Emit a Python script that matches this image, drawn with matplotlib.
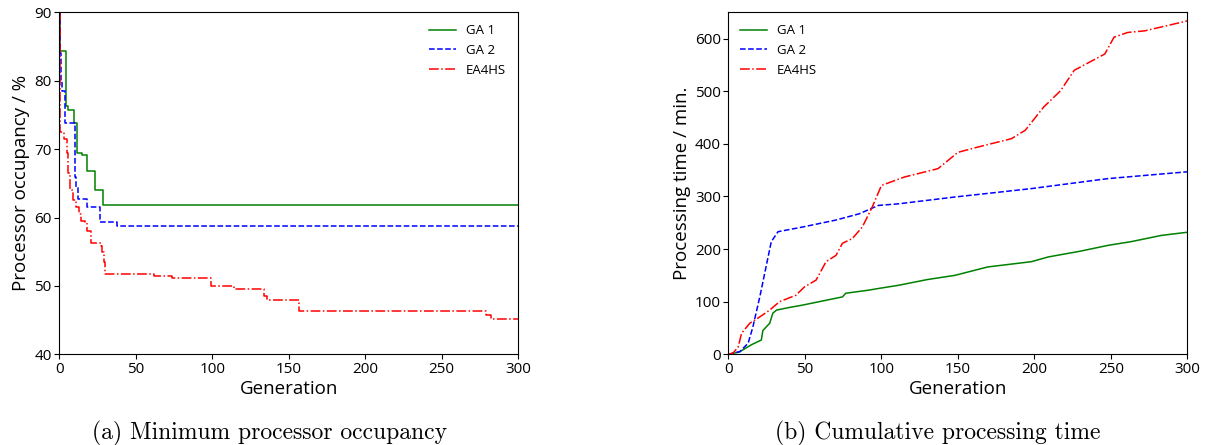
import matplotlib
matplotlib.use("Agg")
import matplotlib.pyplot as plt

plt.rcParams['font.family'] = ['Open Sans', 'DejaVu Sans']

# (a) minimum processor occupancy, step data
occ_gen_ga1 = [0, 0.5, 4.5, 6, 9.5, 11.5, 15, 18.5, 23.5, 28.5, 300]
occ_ga1 = [90, 84.3, 76.3, 75.8, 73.8, 69.5, 69.1, 66.8, 64.0, 61.8, 61.8]

occ_gen_ga2 = [0, 0.3, 1, 2, 3.7, 10.5, 11, 12, 18.3, 26.5, 37.5, 300]
occ_ga2 = [90, 84, 80, 78.5, 73.9, 66, 64.5, 62.7, 61.6, 59.4, 58.8, 58.8]

occ_gen_ea = [0, 0.3, 0.8, 3, 5, 6, 7, 9, 11, 13, 14, 17, 18, 21, 27, 28, 29, 30,
              62, 74, 99, 114, 134, 136, 157, 279, 282, 300]
occ_ea = [90, 80, 72.5, 71.5, 69.5, 66.5, 64.0, 62.5, 61.5, 60.5, 59.5, 59.3, 58.0,
          56.3, 55.8, 55.0, 53.5, 51.7, 51.5, 51.2, 50.0, 49.6, 48.5, 47.9, 46.3,
          45.7, 45.2, 45.2]

# (b) cumulative processing time
pt_gen_ga1 = [0, 7, 15, 21.5, 22.5, 27, 29, 31.5, 40, 48.6, 59.4, 74.5, 76.7, 92, 98,
              111, 130, 148, 169.5, 198, 209, 230, 248, 263, 283, 300]
pt_ga1 = [0, 4, 18, 27, 45, 59, 78, 84, 89, 93.5, 100, 109, 116, 122, 125, 131, 142,
          150, 166, 176, 185, 196, 207, 214, 226, 232]

pt_gen_ga2 = [0, 7.5, 12.9, 16, 20.5, 28, 32.4, 48.6, 70, 85.4, 98, 111, 148, 198, 248, 300]
pt_ga2 = [0, 5, 21, 52, 109, 214, 233, 242, 255, 267, 283, 286, 299, 315, 334, 347]

pt_gen_ea = [0, 3, 6.4, 8.6, 14, 20.5, 27, 33.4, 44, 49.7, 57.3, 63.8, 70.3, 74.5, 81,
             87.5, 94, 100, 115, 137, 150, 163, 185, 194, 206, 217, 226, 246, 252, 261,
             272, 300]
pt_ea = [0, 2, 14, 40, 59, 71, 84, 100, 112, 128, 141, 176, 188, 211, 220, 242, 280,
         321, 337, 353, 384, 394, 410, 426, 470, 501, 540, 571, 603, 612, 615, 634]

labels = ["GA 1", "GA 2", "EA4HS"]

fig = plt.figure(figsize=(12.08, 4.45), dpi=100)
ax1 = fig.add_axes([0.049, 0.204, 0.380, 0.768])
ax2 = fig.add_axes([0.603, 0.204, 0.380, 0.768])

lw = 1.1
ax1.plot(occ_gen_ga1, occ_ga1, color='g', lw=lw, drawstyle='steps-post', label=labels[0])
ax1.plot(occ_gen_ga2, occ_ga2, color='b', lw=lw, ls='--', drawstyle='steps-post', label=labels[1])
ax1.plot(occ_gen_ea, occ_ea, color='r', lw=lw, ls='-.', drawstyle='steps-post', label=labels[2])
ax1.set_xlim(0, 300)
ax1.set_ylim(40, 90)
ax1.set_xlabel("Generation", fontsize=13.5, labelpad=2)
ax1.set_ylabel("Processor occupancy / %", fontsize=13.5, labelpad=3)
ax1.legend(loc='upper right', frameon=False, fontsize=9.5)

ax2.plot(pt_gen_ga1, pt_ga1, color='g', lw=lw, label=labels[0])
ax2.plot(pt_gen_ga2, pt_ga2, color='b', lw=lw, ls='--', label=labels[1])
ax2.plot(pt_gen_ea, pt_ea, color='r', lw=lw, ls='-.', label=labels[2])
ax2.set_xlim(0, 300)
ax2.set_ylim(0, 650)
ax2.set_xlabel("Generation", fontsize=13.5, labelpad=2)
ax2.set_ylabel("Processing time / min.", fontsize=13.5, labelpad=3)
ax2.legend(loc='upper left', frameon=False, fontsize=9.5)

for ax in (ax1, ax2):
    ax.set_xticks([0, 50, 100, 150, 200, 250, 300])
    ax.tick_params(labelsize=11, pad=2)

fig.text(0.2235, 0.026, "(a) Minimum processor occupancy", family='cmr10',
         fontsize=17, ha='center', va='center')
fig.text(0.776, 0.026, "(b) Cumulative processing time", family='cmr10',
         fontsize=17, ha='center', va='center')

fig.savefig("out.png", dpi=100)
